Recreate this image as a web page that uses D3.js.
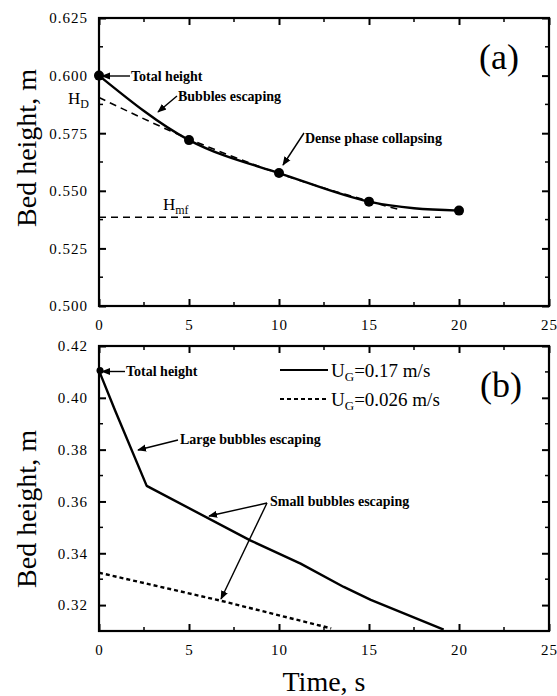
<!DOCTYPE html>
<html>
<head>
<meta charset="utf-8">
<script src="https://cdn.jsdelivr.net/npm/d3@7"></script>
<style>
  body { margin: 0; background: #fff; }
  svg { display: block; }
</style>
</head>
<body>
<script>
// panel (a) - measured bed height (markers + smooth curve)
var timeA = [0, 5, 10, 15, 20];
var heightA = [0.600, 0.572, 0.5577, 0.5453, 0.5414];
var hdTime = [0, 5, 10, 15, 16.6];
var hdHeight = [0.5905, 0.5725, 0.5575, 0.5455, 0.5420];
var hmfTime = [0, 19];
var hmfHeight = [0.5385, 0.5385];

// panel (b)
var timeFast = [0, 0.9, 2.65, 8.4, 11.2, 13.6, 15.1, 19.15];
var heightFast = [0.4105, 0.395, 0.366, 0.345, 0.336, 0.327, 0.322, 0.3105];
var timeSlow = [0, 6.7, 12.9];
var heightSlow = [0.3325, 0.3218, 0.311];

var xTicks = [0, 5, 10, 15, 20, 25];
var yTicksA = [0.500, 0.525, 0.550, 0.575, 0.600, 0.625];
var yTicksB = [0.32, 0.34, 0.36, 0.38, 0.40, 0.42];

var serif = "'Liberation Serif', 'DejaVu Serif', serif";

var svg = d3.select("body").append("svg")
	.attr("width", 557)
	.attr("height", 696);

svg.append("rect").attr("width", 557).attr("height", 696).attr("fill", "#fff");

var defs = svg.append("defs");
defs.append("marker")
	.attr("id", "arr")
	.attr("viewBox", "0 0 10 10")
	.attr("refX", 9).attr("refY", 5)
	.attr("markerWidth", 9).attr("markerHeight", 9)
	.attr("markerUnits", "userSpaceOnUse")
	.attr("orient", "auto")
	.append("path")
		.attr("d", "M0,1 L10,5 L0,9 Z")
		.attr("fill", "#000");

var x = d3.scaleLinear().domain([0, 25]).range([99, 549]);
var yA = d3.scaleLinear().domain([0.5, 0.625]).range([306, 18]);
var yB = d3.scaleLinear().domain([0.31, 0.42]).range([631, 346]);

function frame(y, majors, minors, fmt) {
	var g = svg.append("g");
	var y0 = y.range()[0], y1 = y.range()[1];

	// minor ticks
	var xm = d3.range(2.5, 25, 5);
	xm.forEach(function (t) {
		g.append("line").attr("x1", x(t)).attr("x2", x(t)).attr("y1", y0).attr("y2", y0 - 4);
		g.append("line").attr("x1", x(t)).attr("x2", x(t)).attr("y1", y1).attr("y2", y1 + 4);
	});
	minors.forEach(function (v) {
		g.append("line").attr("x1", 99).attr("x2", 103).attr("y1", y(v)).attr("y2", y(v));
		g.append("line").attr("x1", 549).attr("x2", 545).attr("y1", y(v)).attr("y2", y(v));
	});
	g.selectAll("line").attr("stroke", "#000").attr("stroke-width", 1.5);

	var bottom = svg.append("g")
		.attr("transform", "translate(0," + y0 + ")")
		.call(d3.axisBottom(x).tickValues(xTicks).tickSizeInner(-7).tickSizeOuter(0).tickPadding(10).tickFormat(d3.format("d")));
	var top = svg.append("g")
		.attr("transform", "translate(0," + y1 + ")")
		.call(d3.axisTop(x).tickValues(xTicks).tickSizeInner(-7).tickSizeOuter(0).tickFormat(""));
	var left = svg.append("g")
		.attr("transform", "translate(99,0)")
		.call(d3.axisLeft(y).tickValues(majors).tickSizeInner(-7).tickSizeOuter(0).tickPadding(11).tickFormat(d3.format(fmt)));
	var right = svg.append("g")
		.attr("transform", "translate(549,0)")
		.call(d3.axisRight(y).tickValues(majors).tickSizeInner(-7).tickSizeOuter(0).tickFormat(""));

	[bottom, top, left, right].forEach(function (a) {
		a.select(".domain").remove();
		a.selectAll(".tick line").attr("stroke", "#000").attr("stroke-width", 2);
		a.selectAll("text")
			.attr("font-family", serif)
			.attr("font-size", 15)
			.attr("letter-spacing", 1)
			.attr("fill", "#000");
	});
	bottom.selectAll("text").attr("dy", "0.9em");

	svg.append("rect")
		.attr("x", 99).attr("y", y1)
		.attr("width", 450).attr("height", y0 - y1)
		.attr("fill", "none").attr("stroke", "#000").attr("stroke-width", 2.2);
}

frame(yA, yTicksA, d3.range(0.5125, 0.625, 0.025), ".3f");
frame(yB, yTicksB, d3.range(0.31, 0.42, 0.02), ".2f");

// ---- panel (a) lines
var lineA = d3.line().x(function (d) { return x(d[0]); }).y(function (d) { return yA(d[1]); });

svg.append("path")
	.datum(hmfTime.map(function (t, i) { return [t, hmfHeight[i]]; }))
	.attr("d", lineA)
	.attr("fill", "none").attr("stroke", "#000").attr("stroke-width", 1.4)
	.attr("stroke-dasharray", "7,5");

svg.append("path")
	.datum(hdTime.map(function (t, i) { return [t, hdHeight[i]]; }))
	.attr("d", lineA.curve(d3.curveMonotoneX))
	.attr("fill", "none").attr("stroke", "#000").attr("stroke-width", 1.6)
	.attr("stroke-dasharray", "7,5");

svg.append("path")
	.datum(timeA.map(function (t, i) { return [t, heightA[i]]; }))
	.attr("d", lineA.curve(d3.curveNatural))
	.attr("fill", "none").attr("stroke", "#000").attr("stroke-width", 2.4);

svg.selectAll("circle.ma")
	.data(timeA)
	.enter().append("circle")
		.attr("class", "ma")
		.attr("cx", function (d) { return x(d); })
		.attr("cy", function (d, i) { return yA(heightA[i]); })
		.attr("r", 5)
		.attr("fill", "#000");

// ---- panel (b) lines
var clip = defs.append("clipPath").attr("id", "clipB");
clip.append("rect").attr("x", 99).attr("y", 346).attr("width", 450).attr("height", 285);

var lineB = d3.line().x(function (d) { return x(d[0]); }).y(function (d) { return yB(d[1]); });

svg.append("path")
	.datum(timeFast.map(function (t, i) { return [t, heightFast[i]]; }))
	.attr("d", lineB)
	.attr("clip-path", "url(#clipB)")
	.attr("fill", "none").attr("stroke", "#000").attr("stroke-width", 2.4)
	.attr("stroke-linejoin", "round");

svg.append("path")
	.datum(timeSlow.map(function (t, i) { return [t, heightSlow[i]]; }))
	.attr("d", lineB)
	.attr("clip-path", "url(#clipB)")
	.attr("fill", "none").attr("stroke", "#000").attr("stroke-width", 2.4)
	.attr("stroke-dasharray", "4,3");

svg.append("circle")
	.attr("cx", x(timeFast[0]) + 1).attr("cy", yB(heightFast[0]))
	.attr("r", 3.5).attr("fill", "#000");

// ---- annotations
function arrow(x1, y1, x2, y2) {
	svg.append("line")
		.attr("x1", x1).attr("y1", y1).attr("x2", x2).attr("y2", y2)
		.attr("stroke", "#000").attr("stroke-width", 1.4)
		.attr("marker-end", "url(#arr)");
}
function note(tx, ty, str, size, weight) {
	return svg.append("text")
		.attr("x", tx).attr("y", ty)
		.attr("font-family", serif)
		.attr("font-size", size)
		.attr("font-weight", weight || "bold")
		.text(str);
}

note(131, 81, "Total height", 14);
arrow(130, 76, x(0) + 3, 76);
note(178, 101, "Bubbles escaping", 14);
arrow(177, 96, 158, 112);
note(305, 143, "Dense phase collapsing", 14);
arrow(304, 133, 283, 165);

var hd = note(68, 104, "H", 17, "normal");
hd.append("tspan").attr("dy", 4).attr("font-size", 12).text("D");
var hmf = note(163, 210, "H", 17, "normal");
hmf.append("tspan").attr("dy", 4).attr("font-size", 12).text("mf");

note(499, 69, "(a)", 36, "normal").attr("text-anchor", "middle");
note(501, 397, "(b)", 36, "normal").attr("text-anchor", "middle");

note(126, 376, "Total height", 14);
arrow(125, 371.5, x(0) + 3, 371.5);
note(180, 444, "Large bubbles escaping", 14);
arrow(178, 440, 138, 450);
note(270, 506, "Small bubbles escaping", 14);
arrow(267, 503, 209, 516);
arrow(267, 503, 221, 599);

// legend
svg.append("line").attr("x1", 280).attr("x2", 328).attr("y1", 370).attr("y2", 370)
	.attr("stroke", "#000").attr("stroke-width", 2);
svg.append("line").attr("x1", 280).attr("x2", 328).attr("y1", 399).attr("y2", 399)
	.attr("stroke", "#000").attr("stroke-width", 2).attr("stroke-dasharray", "4,3");
var l1 = note(331, 377, "U", 19, "normal");
l1.append("tspan").attr("dy", 4).attr("font-size", 13).text("G");
l1.append("tspan").attr("dy", -4).text("=0.17 m/s");
var l2 = note(331, 406, "U", 19, "normal");
l2.append("tspan").attr("dy", 4).attr("font-size", 13).text("G");
l2.append("tspan").attr("dy", -4).text("=0.026 m/s");

// axis titles
svg.append("text")
	.attr("transform", "translate(36,148) rotate(-90)")
	.attr("text-anchor", "middle")
	.attr("font-family", serif).attr("font-size", 28)
	.text("Bed height, m");
svg.append("text")
	.attr("transform", "translate(36,509) rotate(-90)")
	.attr("text-anchor", "middle")
	.attr("font-family", serif).attr("font-size", 28)
	.text("Bed height, m");
svg.append("text")
	.attr("x", 324).attr("y", 691)
	.attr("text-anchor", "middle")
	.attr("font-family", serif).attr("font-size", 28)
	.text("Time, s");
</script>
</body>
</html>
